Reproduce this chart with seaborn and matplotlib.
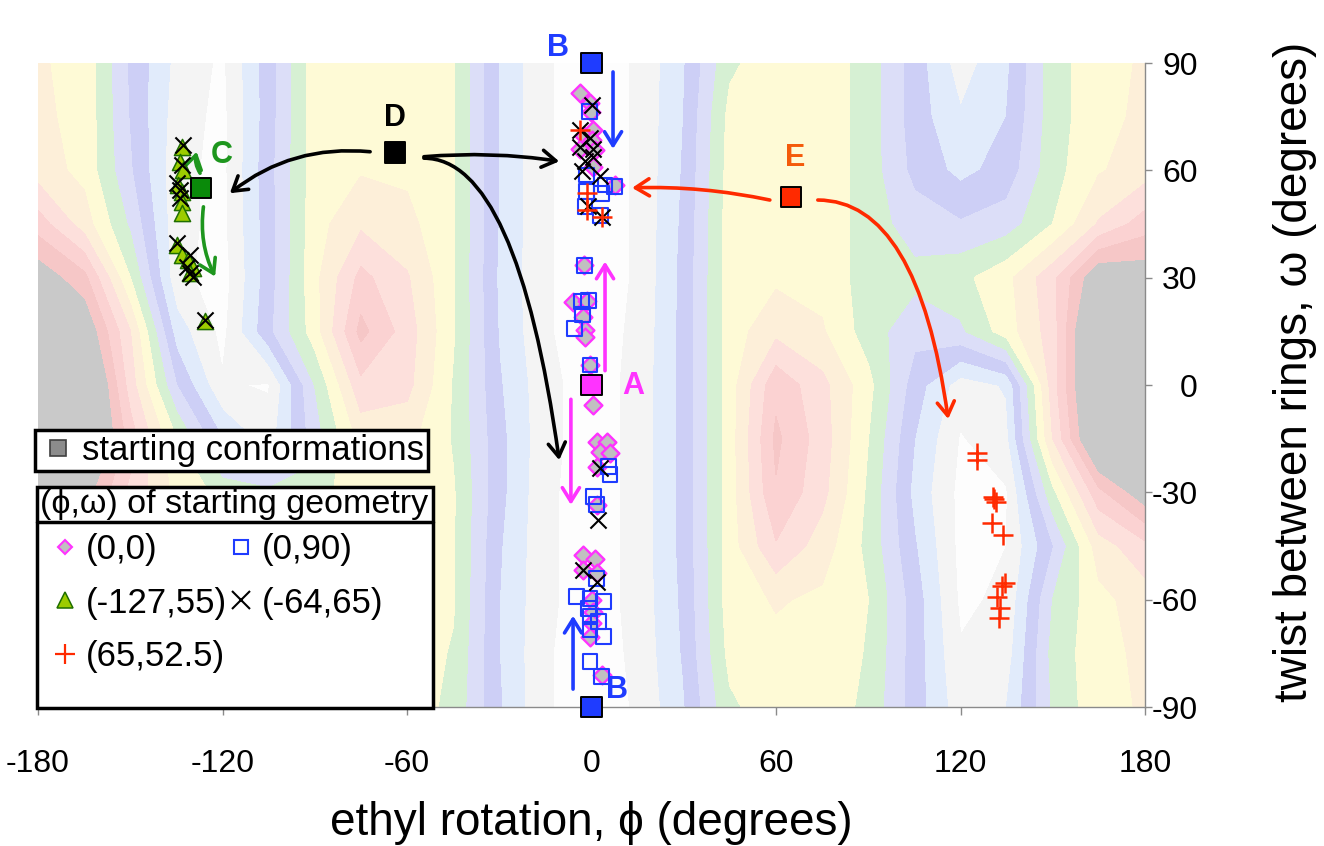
import numpy as np
import pandas as pd
import matplotlib
matplotlib.use("Agg")
import matplotlib.pyplot as plt
from matplotlib.lines import Line2D
from matplotlib.patches import Rectangle
import seaborn as sns

# ---------------- energy surface (band index) ----------------
phi_grid = [-180, -165, -150, -135, -120, -105, -90, -75, -60, -45, -30, -15, 0,
            15, 30, 45, 60, 75, 90, 105, 120, 135, 150, 165, 180]
omega_grid = [90, 75, 60, 45, 30, 15, 0, -15, -30, -45, -60, -75, -90]
energy_band = [
    [6.6, 6.2, 3.3, 1.2, 0.3, 3.0, 6.0, 6.2, 6.1, 5.6, 2.4, 0.6, 0.0, 0.6, 2.4, 5.3, 6.1, 6.2, 5.0, 3.0, 1.0, 2.3, 5.0, 6.2, 6.6],
    [6.7, 6.2, 3.4, 1.0, 0.2, 3.0, 6.0, 6.2, 6.1, 5.6, 2.4, 0.6, 0.0, 0.6, 2.5, 5.8, 6.1, 6.2, 5.0, 3.0, 1.6, 2.5, 5.0, 6.2, 6.7],
    [7.0, 6.2, 3.6, 0.8, 0.2, 3.1, 6.0, 6.4, 6.3, 5.6, 2.4, 0.6, 0.0, 0.6, 2.6, 5.9, 6.1, 6.2, 5.0, 3.2, 2.2, 2.9, 5.1, 6.4, 7.0],
    [9.0, 7.0, 4.3, 0.8, 0.2, 3.0, 6.1, 7.3, 6.8, 5.6, 2.4, 0.6, 0.0, 0.6, 2.7, 6.0, 6.1, 6.2, 5.0, 4.0, 3.6, 4.0, 5.5, 7.6, 9.0],
    [11.2, 9.8, 5.5, 0.8, 0.0, 3.0, 6.2, 8.8, 7.6, 5.6, 2.3, 0.6, 0.0, 0.6, 2.8, 6.0, 6.3, 6.2, 5.0, 4.8, 5.2, 6.2, 8.2, 11.5, 11.2],
    [12.0, 11.5, 7.5, 2.0, 0.2, 3.2, 6.0, 9.8, 8.0, 5.6, 2.4, 0.6, 0.0, 0.7, 2.8, 6.0, 7.2, 6.6, 5.0, 3.8, 4.3, 6.0, 8.0, 13.0, 12.0],
    [13.0, 13.0, 8.0, 3.5, 0.6, 0.4, 4.5, 8.2, 7.8, 5.4, 2.6, 0.8, 0.0, 0.8, 2.8, 6.0, 9.2, 7.8, 5.8, 3.0, 1.0, 1.6, 8.0, 13.0, 13.0],
    [12.5, 13.0, 9.0, 5.5, 2.5, 1.0, 4.0, 6.8, 6.8, 5.4, 2.8, 0.8, 0.0, 0.8, 2.8, 6.0, 9.7, 8.0, 5.5, 2.5, 0.4, 1.2, 7.5, 12.5, 12.5],
    [11.2, 11.0, 8.2, 6.2, 5.2, 4.8, 5.0, 6.2, 6.1, 5.6, 2.8, 0.7, 0.0, 0.8, 2.8, 6.0, 9.4, 7.8, 5.3, 2.2, 0.2, 0.4, 5.2, 9.2, 11.2],
    [8.2, 7.6, 5.5, 4.0, 3.6, 4.0, 5.0, 6.2, 6.1, 5.6, 2.6, 0.7, 0.0, 0.8, 2.8, 6.0, 8.4, 7.0, 5.2, 2.6, 0.2, 0.5, 3.4, 7.0, 8.2],
    [7.0, 6.4, 5.1, 2.9, 2.2, 3.2, 5.0, 6.2, 6.1, 5.6, 2.5, 0.7, 0.0, 0.8, 2.7, 6.0, 6.6, 6.3, 5.5, 3.0, 0.3, 0.7, 4.5, 6.2, 7.0],
    [6.7, 6.2, 5.0, 2.5, 1.6, 3.0, 5.0, 6.2, 6.1, 5.4, 2.5, 0.6, 0.0, 0.7, 2.6, 5.8, 6.2, 6.2, 5.4, 3.0, 0.6, 1.0, 4.8, 6.2, 6.7],
    [6.6, 6.2, 3.3, 1.2, 0.3, 3.0, 6.0, 6.2, 6.1, 5.2, 2.6, 0.6, 0.0, 0.6, 2.4, 5.3, 6.1, 6.2, 5.2, 3.0, 0.9, 1.5, 4.6, 6.2, 6.6],
]
band_levels = [-0.5, 0.5, 1.5, 2.5, 3.5, 4.5, 5.5, 6.5, 7.5, 8.5, 9.5, 10.5, 14.0]
band_colors = ["#fdfdfd", "#f4f4f4", "#e1ebfb", "#cdcff6", "#dcdef8", "#d6f0d3",
               "#fefad6", "#fdefd9", "#fde0dc", "#fbd2d2", "#f6c7c7", "#c9c9c9"]

# ---------------- optimised geometries, grouped by starting geometry ----------------
d00_phi = [-3.8, -0.5, -0.3, 0.6, -2.5, 0.3, -3.9, 1.1, 0.6, 7.6,
           -2.3, -5.9, -1.6, -2.9, -2.1, -2.1, -0.5, 0.6,
           1.7, 4.9, 2.8, 6.0, 1.7, 1.7,
           -2.7, 1.1, -2.7, 1.7, 0.1, 0.6, 0.1, -0.5, 3.3]
d00_omega = [81.5, 78.7, 76.4, 71.3, 69.5, 68.5, 66.0, 65.6, 61.0, 55.9,
             33.5, 23.3, 23.6, 19.1, 15.4, 13.5, 5.6, -5.6,
             -15.8, -15.8, -18.7, -19.1, -22.8, -33.5,
             -47.5, -48.5, -51.7, -52.6, -60.0, -63.5, -66.6, -70.3, -81.0]

s090_phi = [-0.7, -1.6, 4.4, 7.6, -1.6, 3.3, -2.1, 2.8,
            -2.3, -3.2, -1.0, -2.9, -5.4, -0.5,
            5.5, 6.0, 0.6, 1.7,
            1.7, -4.8, -0.5, 3.9, -1.0, -0.5, 2.2, -0.5, 3.9, -0.5, 3.3]
s090_omega = [76.4, 58.7, 55.9, 55.6, 54.0, 53.4, 49.9, 47.5,
              33.5, 23.3, 23.6, 19.6, 15.9, 5.6,
              -22.8, -25.1, -31.2, -33.5,
              -54.1, -59.2, -59.7, -60.6, -62.4, -64.7, -66.1, -68.4, -70.3, -77.3, -81.5]

t127_phi = [-133.3, -133.8, -132.7, -134.4, -133.3, -133.3, -133.3,
            -134.9, -133.3, -131.1, -129.5, -130.5, -125.7]
t127_omega = [66.5, 62.3, 60.0, 55.9, 54.0, 51.2, 48.0,
              39.1, 36.3, 34.8, 32.6, 31.2, 17.8]

x64_phi = [0.1, -3.7, -0.5, -3.7, 0.6, -2.1, 0.6, -3.2, 2.8, -1.0, 3.3,
           2.8, 2.2, -2.7, 1.7,
           -132.7, -133.3, -134.9, -133.8, -133.8, -134.9, -130.5, -131.6, -130.5, -129.5, -125.7]
x64_omega = [78.2, 71.3, 68.9, 66.6, 66.1, 62.5, 63.8, 59.7, 58.3, 49.9, 47.0,
             -23.3, -37.7, -51.7, -55.0,
             67.0, 61.5, 56.4, 54.6, 52.2, 39.6, 36.3, 33.1, 31.2, 30.3, 18.2]

p65_phi = [-3.7, -1.6, -1.6, 3.3,
           125.3, 125.5, 130.7, 131.0, 131.5, 130.2, 133.9, 134.4, 133.4, 131.8, 132.9, 132.4]
p65_omega = [71.3, 53.6, 48.9, 47.0,
             -19.1, -21.0, -31.2, -32.0, -32.8, -38.6, -41.9, -55.4, -56.3, -59.2, -62.4, -65.2]

start_names = ["A", "B", "B2", "C", "D", "E"]
start_phi = [0, 0, 0, -127, -64, 65]
start_omega = [0, 90, -90, 55, 65, 52.5]

series_labels = ["(0,0)", "(0,90)", "(-127,55)", "(-64,65)", "(65,52.5)"]
legend_title = "(ϕ,ω) of starting geometry"

# annotation letters and arrows
letter_text = ["A", "B", "B", "C", "D", "E"]
letter_phi = [13.5, -10.9, 8.3, -120.2, -64.0, 66.2]
letter_omega = [-0.3, 94.2, -85.2, 64.3, 74.6, 63.4]

BLUE, MAG, GRN, RED = "#1f3cff", "#ff33ff", "#1e961e", "#ff2a00"
letter_color = [MAG, BLUE, BLUE, GRN, "black", "#f45a0a"]

arrows = [
    ((7.0, 87.5), (7.0, 66.0), BLUE, "arc3,rad=0"),
    ((-6.0, -85.0), (-6.0, -64.5), BLUE, "arc3,rad=0"),
    ((4.4, 4.0), (4.4, 34.5), MAG, "arc3,rad=0"),
    ((-6.7, -4.0), (-6.7, -33.5), MAG, "arc3,rad=0"),
    ((-127.3, 59.2), (-128.4, 65.2), GRN, "arc3,rad=-0.2"),
    ((-126.2, 49.8), (-122.4, 30.3), GRN, "arc3,rad=0.15"),
    ((-72.0, 65.2), (-117.6, 53.6), "black", "arc3,rad=0.2"),
    ((-54.5, 63.8), (-10.5, 62.5), "black", "arc3,rad=-0.06"),
    ((-54.5, 63.4), (-10.5, -21.0), "black", "angle3,angleA=0,angleB=98"),
    ((58.0, 51.7), (13.2, 55.1), RED, "arc3,rad=0.06"),
    ((73.6, 51.7), (116.0, -9.5), RED, "angle3,angleA=0,angleB=98"),
]

# ---------------- figure ----------------
sns.set_style("white")
plt.rcParams["font.family"] = ["Liberation Sans", "DejaVu Sans"]
plt.rcParams["axes.unicode_minus"] = False
plt.rcParams["text.color"] = "black"
plt.rcParams["axes.labelcolor"] = "black"

W, H = 1324, 846
fig = plt.figure(figsize=(W / 100, H / 100), dpi=100)
ax = fig.add_axes([38 / W, 1 - 707 / H, 1107 / W, 644 / H])

cs = ax.contourf(phi_grid, omega_grid, energy_band, levels=band_levels, colors=band_colors, zorder=0)
cs.set_edgecolor("face")
cs.set_linewidth(0.4)

for (p0, p1, col, cstyle) in arrows:
    ax.annotate("", xy=p1, xytext=p0, zorder=2.5,
                arrowprops=dict(arrowstyle="->,head_length=0.45,head_width=0.28", color=col,
                                lw=2.6, connectionstyle=cstyle, shrinkA=0, shrinkB=0,
                                mutation_scale=22))

sns.scatterplot(x=d00_phi, y=d00_omega, marker="D", s=82, color="#c0c0c0",
                edgecolor=MAG, linewidth=1.7, ax=ax, zorder=3, legend=False)
sns.scatterplot(x=s090_phi, y=s090_omega, marker="s", s=115, color=BLUE, facecolors="none",
                edgecolor=BLUE, linewidth=1.5, ax=ax, zorder=3.1, legend=False)
sns.scatterplot(x=t127_phi, y=t127_omega, marker="^", s=135, color="#9ccc00",
                edgecolor="#1f6e00", linewidth=1.1, ax=ax, zorder=3.2, legend=False)
sns.scatterplot(x=x64_phi, y=x64_omega, marker="x", s=135, color="black",
                linewidth=1.5, ax=ax, zorder=3.3, legend=False)
sns.scatterplot(x=p65_phi, y=p65_omega, marker="+", s=210, color=RED,
                linewidth=1.8, ax=ax, zorder=3.4, legend=False)

start_df = pd.DataFrame({"name": start_names, "phi": start_phi, "omega": start_omega})
start_palette = {"A": MAG, "B": BLUE, "B2": BLUE, "C": "#0a8a0a", "D": "black", "E": RED}
sns.scatterplot(data=start_df, x="phi", y="omega", hue="name", palette=start_palette,
                marker="s", s=210, edgecolor="black", linewidth=1.4, ax=ax, zorder=4,
                legend=False, clip_on=False)

for t, p, o, c in zip(letter_text, letter_phi, letter_omega, letter_color):
    ax.text(p, o, t, color=c, fontsize=22, fontweight="bold", ha="center", va="center",
            zorder=5, clip_on=False)

# axes styling
ax.set_xlim(-180, 180)
ax.set_ylim(-90, 90)
ax.set_xticks([-180, -120, -60, 0, 60, 120, 180])
ax.set_yticks([-90, -60, -30, 0, 30, 60, 90])
ax.yaxis.tick_right()
ax.yaxis.set_label_position("right")
for side in ["left", "top"]:
    ax.spines[side].set_visible(False)
for side in ["right", "bottom"]:
    ax.spines[side].set_color("#8a8a8a")
    ax.spines[side].set_linewidth(1.0)
ax.tick_params(axis="x", direction="out", length=6, width=1, color="#8a8a8a",
               labelcolor="black", labelsize=23, pad=24, bottom=True)
ax.tick_params(axis="y", direction="out", length=5, width=1, color="#8a8a8a",
               labelcolor="black", labelsize=23, pad=33, right=True, left=False)
plt.setp(ax.get_yticklabels(), ha="right")
ax.set_xlabel("ethyl rotation, ϕ (degrees)", fontsize=33, labelpad=16)
ax.set_ylabel("twist between rings, ω (degrees)", fontsize=33, rotation=90)
ax.yaxis.set_label_coords(1.116, 0.52)
ax.grid(False)

# legend 1: starting conformations
h_start = Line2D([], [], marker="s", ls="none", ms=11, mfc="#8c8c8c", mec="#404040", mew=1.2)
leg1 = ax.legend(handles=[h_start], labels=["starting conformations"], loc="upper left",
                 bbox_to_anchor=(-0.003, 0.43), borderaxespad=0, frameon=True, fancybox=False,
                 edgecolor="black", fontsize=25, handlelength=1.1, handletextpad=0.15,
                 borderpad=0.12, framealpha=1)
leg1.get_frame().set_linewidth(2.5)
leg1.set_zorder(6)
ax.add_artist(leg1)

# legend 2: boxed title + entries
ax.add_patch(Rectangle((-0.001, -0.0016), 0.3578, 0.3432, transform=ax.transAxes,
                       facecolor="white", edgecolor="black", lw=2.5, zorder=5.5, clip_on=False))
ax.add_line(Line2D([-0.001, 0.3568], [0.2873, 0.2873], transform=ax.transAxes,
                   color="black", lw=2.5, zorder=5.6, clip_on=False))
ax.text(0.177, 0.3145, legend_title, transform=ax.transAxes, fontsize=24.5,
        ha="center", va="center", zorder=6.5)

h_d = Line2D([], [], marker="D", ls="none", ms=7.5, mfc="#c0c0c0", mec=MAG, mew=1.5)
h_s = Line2D([], [], marker="s", ls="none", ms=10, mfc="none", mec=BLUE, mew=1.5)
h_t = Line2D([], [], marker="^", ls="none", ms=11, mfc="#9ccc00", mec="#1f6e00", mew=1.1)
h_x = Line2D([], [], marker="x", ls="none", ms=13, mec="black", mew=1.5)
h_p = Line2D([], [], marker="+", ls="none", ms=14, mec=RED, mew=1.6)
leg2 = ax.legend(handles=[h_d, h_t, h_p, h_s, h_x],
                 labels=[series_labels[0], series_labels[2], series_labels[4],
                         series_labels[1], series_labels[3]],
                 ncol=2, fontsize=25, loc="upper left", bbox_to_anchor=(0.0149, 0.2705),
                 borderaxespad=0, frameon=False, handlelength=0.6, handletextpad=0.3,
                 columnspacing=0.12, labelspacing=0.6, borderpad=0)
leg2.set_zorder(6)

fig.savefig("out.png", dpi=100)
